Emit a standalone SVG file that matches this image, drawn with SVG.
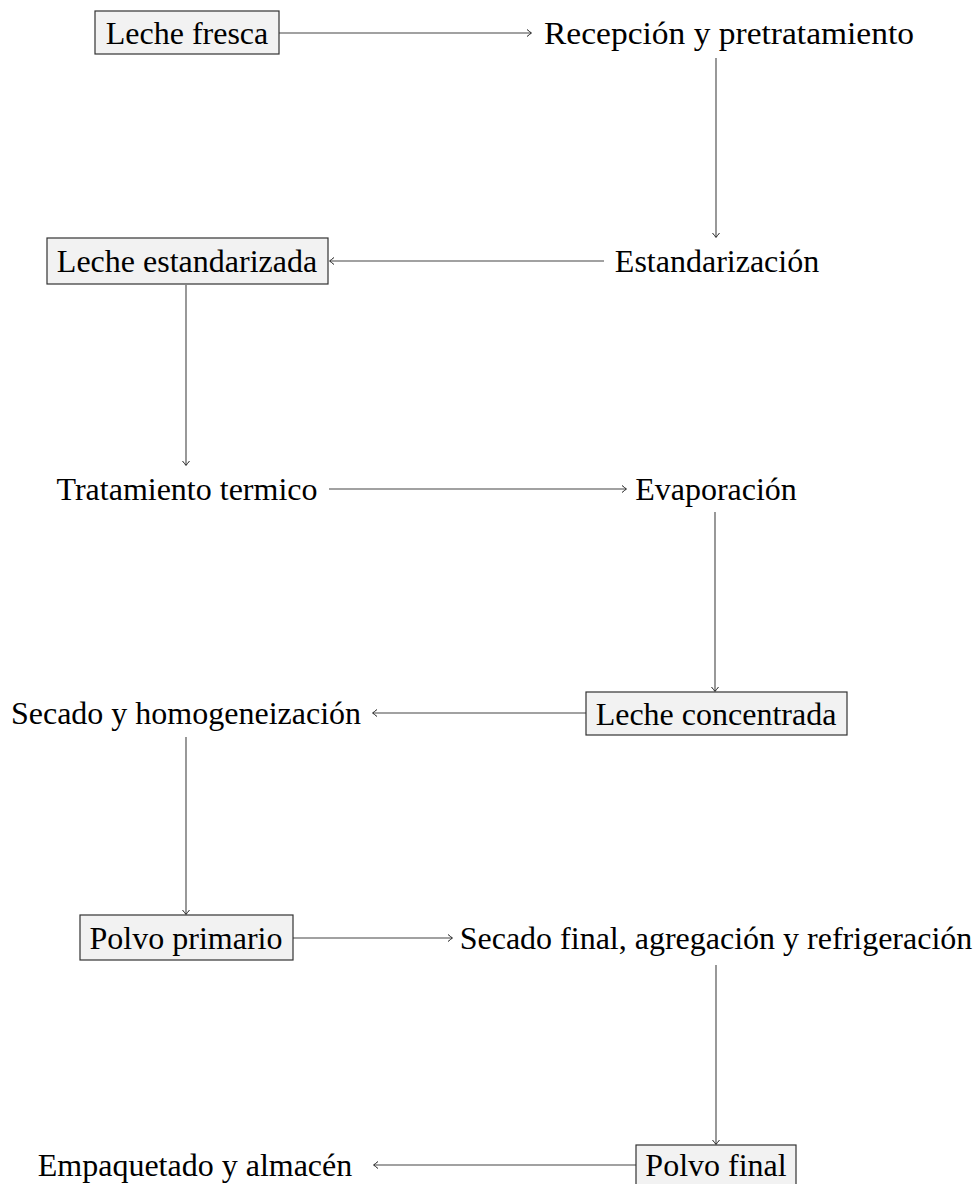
<svg xmlns="http://www.w3.org/2000/svg" width="975" height="1184" viewBox="0 0 975 1184">
<style>
text{font-family:"Liberation Serif","Times New Roman",serif;font-size:32px;fill:#000;text-anchor:middle}
.box{fill:#f2f2f2;stroke:#333;stroke-width:1.2}
.c{stroke:#444;stroke-width:1.1;fill:none;marker-end:url(#ah)}
</style>
<defs>
<marker id="ah" viewBox="-6 -5 8 10" refX="0" refY="0" markerWidth="8" markerHeight="10" markerUnits="userSpaceOnUse" orient="auto">
<path d="M-4,-3.5 Q-1,-1 0.5,0 Q-1,1 -4,3.5" fill="none" stroke="#222" stroke-width="1"/>
</marker>
</defs>
<g id="connectors">
<line class="c" x1="279" y1="33" x2="531" y2="33"/>
<line class="c" x1="716" y1="58" x2="716" y2="237"/>
<line class="c" x1="604" y1="261" x2="330" y2="261"/>
<line class="c" x1="186" y1="285" x2="186" y2="465"/>
<line class="c" x1="329" y1="489" x2="626" y2="489"/>
<line class="c" x1="715" y1="512" x2="715" y2="691"/>
<line class="c" x1="586" y1="713" x2="373" y2="713"/>
<line class="c" x1="186" y1="737" x2="186" y2="914"/>
<line class="c" x1="293" y1="938" x2="452" y2="938"/>
<line class="c" x1="716" y1="965" x2="716" y2="1144"/>
<line class="c" x1="636" y1="1165" x2="374" y2="1165"/>
</g>
<g id="n1"><rect class="box" x="95" y="11" width="184" height="43"/><text x="187" y="44">Leche fresca</text></g>
<g id="n2"><text x="729" y="44" textLength="370" lengthAdjust="spacingAndGlyphs">Recepción y pretratamiento</text></g>
<g id="n3"><text x="717" y="272">Estandarización</text></g>
<g id="n4"><rect class="box" x="47" y="238" width="281" height="46"/><text x="187" y="272">Leche estandarizada</text></g>
<g id="n5"><text x="187" y="500">Tratamiento termico</text></g>
<g id="n6"><text x="716" y="500">Evaporación</text></g>
<g id="n7"><rect class="box" x="586" y="692" width="261" height="43"/><text x="716" y="725">Leche concentrada</text></g>
<g id="n8"><text x="186" y="724">Secado y homogeneización</text></g>
<g id="n9"><rect class="box" x="80" y="915" width="213" height="45"/><text x="186" y="949">Polvo primario</text></g>
<g id="n10"><text x="716" y="949">Secado final, agregación y refrigeración</text></g>
<g id="n11"><rect class="box" x="636" y="1145" width="160" height="45"/><text x="716" y="1176">Polvo final</text></g>
<g id="n12"><text x="195" y="1176">Empaquetado y almacén</text></g>
</svg>
